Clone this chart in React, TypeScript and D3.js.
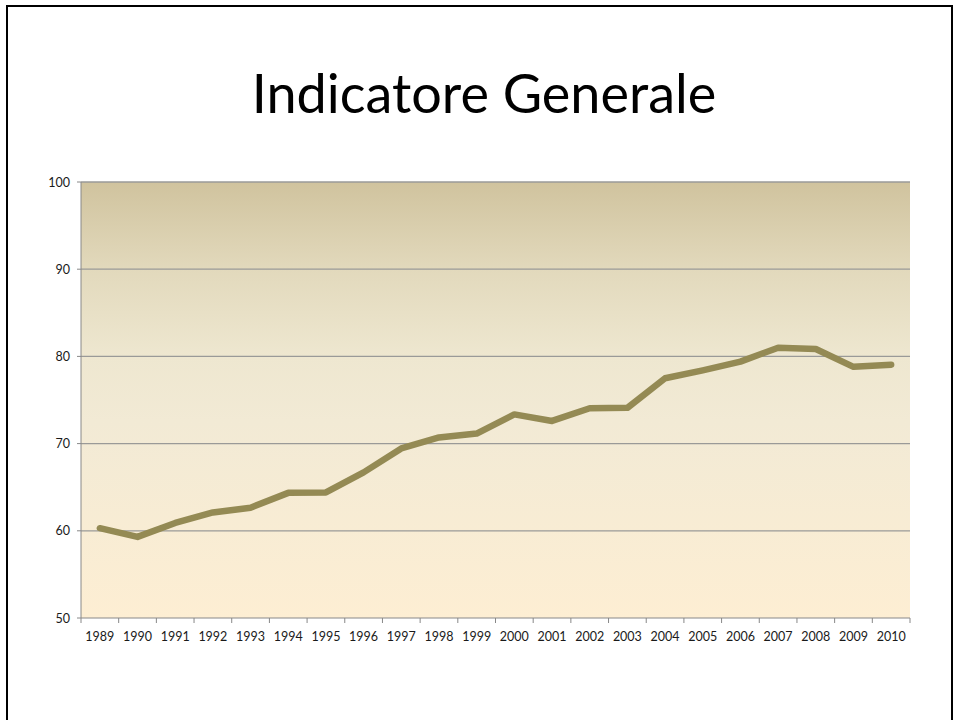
import React from "react";
import * as d3 from "d3";

const years: string[] = [
  "1989", "1990", "1991", "1992", "1993", "1994", "1995", "1996", "1997", "1998", "1999",
  "2000", "2001", "2002", "2003", "2004", "2005", "2006", "2007", "2008", "2009", "2010",
];
const values: number[] = [
  60.3, 59.3, 60.9, 62.1, 62.65, 64.35, 64.4, 66.7, 69.45, 70.7, 71.15,
  73.35, 72.6, 74.05, 74.1, 77.5, 78.4, 79.4, 81.0, 80.85, 78.8, 79.05,
];
const yTicks: number[] = [50, 60, 70, 80, 90, 100];
const title = "Indicatore Generale";

const W = 954;
const H = 720;
const plot = { left: 81, right: 910, top: 182, bottom: 618 };
const FONT = "Lato, 'Open Sans', sans-serif";

export default function App() {
  const x = d3
    .scaleBand<string>()
    .domain(years)
    .range([plot.left, plot.right])
    .paddingInner(0)
    .paddingOuter(0);
  const y = d3.scaleLinear().domain([50, 100]).range([plot.bottom, plot.top]);

  const line = d3
    .line<number>()
    .x((_, i) => (x(years[i]) as number) + x.bandwidth() / 2)
    .y((d) => y(d));

  const boundaries = years.map((yr) => x(yr) as number).concat([plot.right]);

  return (
    <svg
      width={W}
      height={H}
      style={{ position: "absolute", left: 0, top: 0, background: "#fff" }}
    >
      <defs>
        <linearGradient id="bg" x1="0" y1="0" x2="0" y2="1">
          <stop offset="0" stopColor="#D0C39E" />
          <stop offset="0.2" stopColor="#E2D9BC" />
          <stop offset="0.4" stopColor="#EEE7D0" />
          <stop offset="0.55" stopColor="#F2EAD5" />
          <stop offset="1" stopColor="#FDEED3" />
        </linearGradient>
      </defs>
      {/* slide frame */}
      <path
        d={`M7,${H + 5} L7,6 L952,6 L952,${H + 5}`}
        fill="none"
        stroke="#000"
        strokeWidth={2}
      />
      <text
        x={484}
        y={113}
        textAnchor="middle"
        fontFamily={FONT}
        fontSize={54}
        fill="#000"
      >
        {title}
      </text>
      <rect
        x={plot.left}
        y={plot.top}
        width={plot.right - plot.left}
        height={plot.bottom - plot.top}
        fill="url(#bg)"
      />
      {yTicks.map((t) => (
        <g key={t}>
          {t !== 50 && (
            <line
              x1={plot.left}
              x2={plot.right}
              y1={y(t)}
              y2={y(t)}
              stroke="#9A9A98"
              strokeWidth={1.3}
            />
          )}
          <line x1={plot.left - 4} x2={plot.left} y1={y(t)} y2={y(t)} stroke="#888" strokeWidth={1} />
          <text
            x={70}
            y={y(t) + 4.6}
            textAnchor="end"
            fontFamily={FONT}
            fontSize={12.5}
            fill="#1a1a1a"
          >
            {t}
          </text>
        </g>
      ))}
      {/* axes */}
      <line x1={plot.left} x2={plot.left} y1={plot.top} y2={plot.bottom} stroke="#888" strokeWidth={1} />
      <line x1={plot.left} x2={plot.right} y1={plot.bottom} y2={plot.bottom} stroke="#888" strokeWidth={1} />
      {boundaries.map((bx, i) => (
        <line key={i} x1={bx} x2={bx} y1={plot.bottom} y2={plot.bottom + 5} stroke="#888" strokeWidth={1} />
      ))}
      {years.map((yr) => (
        <text
          key={yr}
          x={(x(yr) as number) + x.bandwidth() / 2}
          y={641}
          textAnchor="middle"
          fontFamily={FONT}
          fontSize={12.5}
          fill="#1a1a1a"
        >
          {yr}
        </text>
      ))}
      <path
        d={line(values) || ""}
        fill="none"
        stroke="#948A54"
        strokeWidth={6.5}
        strokeLinecap="round"
        strokeLinejoin="round"
      />
    </svg>
  );
}
